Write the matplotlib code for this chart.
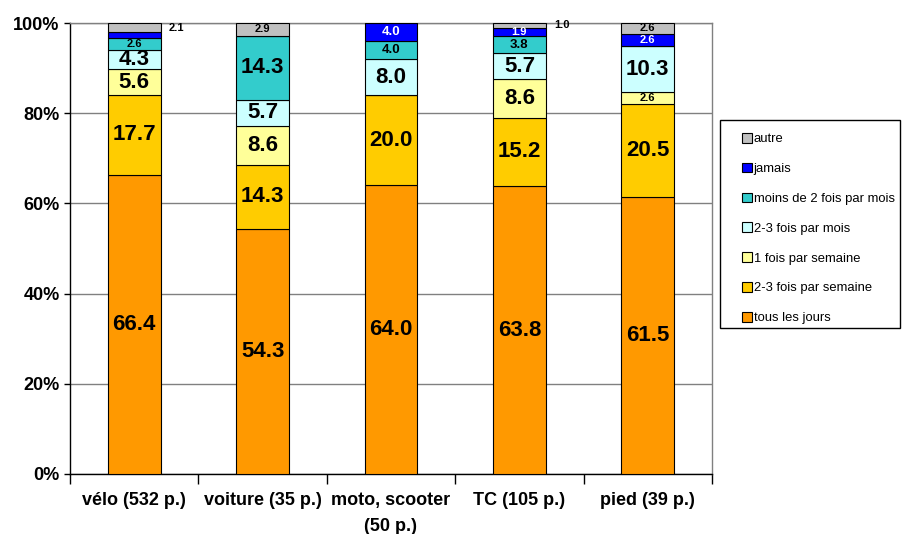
import matplotlib
matplotlib.use("Agg")
import matplotlib.pyplot as plt
import numpy as np
from matplotlib import font_manager
from matplotlib.patches import Rectangle

categories = ["vélo (532 p.)", "voiture (35 p.)", "moto, scooter\n(50 p.)", "TC (105 p.)", "pied (39 p.)"]
series_names = ["tous les jours", "2-3 fois par semaine", "1 fois par semaine",
                "2-3 fois par mois", "moins de 2 fois par mois", "jamais", "autre"]
tous_les_jours = [66.4, 54.3, 64.0, 63.8, 61.5]
deux_trois_semaine = [17.7, 14.3, 20.0, 15.2, 20.5]
une_semaine = [5.6, 8.6, 0.0, 8.6, 2.6]
deux_trois_mois = [4.3, 5.7, 8.0, 5.7, 10.3]
moins_deux_mois = [2.6, 14.3, 4.0, 3.8, 0.0]
jamais = [1.3, 0.0, 4.0, 1.9, 2.6]
autre = [2.1, 2.9, 0.0, 1.0, 2.6]
yticks = [0, 20, 40, 60, 80, 100]
ytick_labels = ["0%", "20%", "40%", "60%", "80%", "100%"]

series = [tous_les_jours, deux_trois_semaine, une_semaine, deux_trois_mois,
          moins_deux_mois, jamais, autre]
colors = ["#FF9900", "#FFCC00", "#FFFF99", "#CCFFFF", "#33CCCC", "#0000FF", "#C0C0C0"]
text_colors = ["black", "black", "black", "black", "black", "white", "black"]

names = {f.name for f in font_manager.fontManager.ttflist}
base = "Liberation Sans" if "Liberation Sans" in names else "DejaVu Sans"
narrow = "Liberation Sans Narrow" if "Liberation Sans Narrow" in names else base
plt.rcParams["font.family"] = [base, "DejaVu Sans"]

fig = plt.figure(figsize=(9.04, 5.34), dpi=100)
ax = fig.add_axes([70/904, 60/534, 642/904, 451/534])

x = np.arange(len(categories))
bottom = np.zeros(len(categories))
for vals, col, tcol, name in zip(series, colors, text_colors, series_names):
    vals = np.array(vals)
    ax.bar(x, vals, 0.41, bottom=bottom, color=col, edgecolor="black",
           linewidth=0.8, label=name, zorder=3)
    for i, v in enumerate(vals):
        if v <= 0:
            continue
        yc = bottom[i] + v / 2
        if name == "autre" and v < 2.5:
            ax.text(x[i] + 0.27, yc, f"{v:.1f}", ha="left", va="center",
                    fontsize=8, fontweight="bold", zorder=4)
            continue
        if name == "jamais" and v < 1.5:
            continue
        if v >= 4.2:
            fs = 16
        elif v >= 3.5:
            fs = 9.5
        else:
            fs = 8
        ax.text(x[i], yc, f"{v:.1f}", ha="center", va="center", color=tcol,
                fontsize=fs, fontweight="bold", zorder=4)
    bottom += vals

ax.set_xlim(-0.5, len(categories) - 0.5)
ax.set_ylim(0, 100)
ax.set_yticks(yticks)
ax.set_yticklabels(ytick_labels, fontsize=13, fontweight="bold")
ax.yaxis.grid(True, color="#808080", linewidth=1.0, zorder=0)
ax.set_axisbelow(True)
ax.set_xticks(x)
ax.set_xticklabels(categories, fontsize=13, fontweight="bold", family=narrow,
                   linespacing=1.7)
ax.tick_params(axis="x", length=0, pad=13)
ax.set_xticks(np.arange(len(categories) + 1) - 0.5, minor=True)
ax.tick_params(axis="x", which="minor", length=7, width=1, direction="out")
ax.tick_params(axis="y", length=4, width=1, direction="out")
for s in ["top", "right"]:
    ax.spines[s].set_color("#808080")
    ax.spines[s].set_linewidth(1.0)
for s in ["left", "bottom"]:
    ax.spines[s].set_color("black")
    ax.spines[s].set_linewidth(1.0)

# legend frame
fig.patches.append(Rectangle((720/904, (534-328)/534), 180/904, 208/534,
                             transform=fig.transFigure, facecolor="white",
                             edgecolor="black", linewidth=1.0, zorder=1))
handles, labels = ax.get_legend_handles_labels()
leg = fig.legend(handles[::-1], labels[::-1], loc="upper left",
                 bbox_to_anchor=(742/904, (534-133)/534),
                 fontsize=9.4, frameon=False,
                 labelspacing=1.34, handlelength=0.75, handleheight=0.75,
                 handletextpad=0.15, borderpad=0, borderaxespad=0)
leg.set_zorder(2)

fig.savefig("out.png", dpi=100)
